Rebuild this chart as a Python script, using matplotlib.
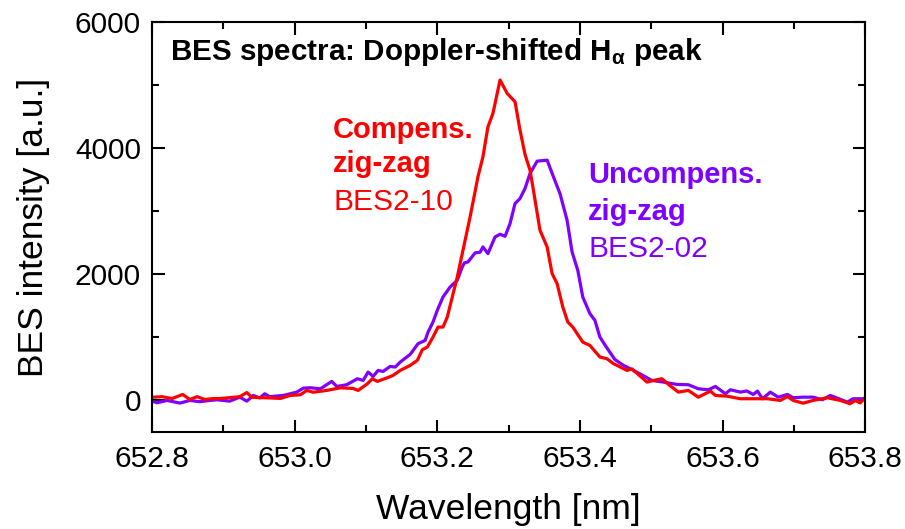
import numpy as np
import matplotlib
matplotlib.use('Agg')
import matplotlib.pyplot as plt
from matplotlib.ticker import MultipleLocator

plt.rcParams['font.family'] = ['Liberation Sans', 'DejaVu Sans']
plt.rcParams['mathtext.fontset'] = 'custom'
plt.rcParams['mathtext.rm'] = 'Liberation Sans'
plt.rcParams['mathtext.it'] = 'Liberation Sans:italic'
plt.rcParams['mathtext.bf'] = 'Liberation Sans:bold'

# compensated zig-zag, BES2-10
wl_comp = [652.800, 652.814, 652.828, 652.843, 652.853, 652.863, 652.874, 652.886,
           652.895, 652.909, 652.923, 652.933, 652.940, 652.951, 652.965, 652.980,
           652.994, 653.008, 653.017, 653.026, 653.045, 653.064, 653.082, 653.089,
           653.102, 653.109, 653.116, 653.130, 653.138, 653.148, 653.162, 653.172,
           653.179, 653.186, 653.194, 653.201, 653.208, 653.214, 653.221, 653.228,
           653.236, 653.246, 653.257, 653.264, 653.271, 653.278, 653.288, 653.298,
           653.309, 653.316, 653.323, 653.330, 653.334, 653.344, 653.354, 653.361,
           653.368, 653.376, 653.383, 653.390, 653.404, 653.414, 653.428, 653.438,
           653.447, 653.452, 653.466, 653.473, 653.494, 653.503, 653.515, 653.526,
           653.538, 653.552, 653.566, 653.583, 653.590, 653.606, 653.625, 653.649,
           653.663, 653.681, 653.691, 653.699, 653.713, 653.727, 653.747, 653.765,
           653.779, 653.786, 653.793, 653.800]
int_comp = [50, 60, 30, 95, 15, 60, 15, 30,
            30, 45, 60, 125, 50, 45, 40, 32,
            80, 90, 159, 130, 159, 200, 190, 159,
            265, 344, 302, 360, 397, 476, 556, 635,
            805, 846, 1005, 1163, 1163, 1322, 1640, 1957,
            2381, 2910, 3545, 3862, 4338, 4550, 5080, 4868,
            4735, 4286, 3900, 3651, 3386, 2698, 2434, 2011,
            1852, 1481, 1243, 1163, 925, 873, 688, 661,
            582, 556, 476, 500, 291, 317, 344, 238,
            132, 159, 52, 148, 79, 68, 27, 27,
            27, 0, 63, 0, -43, 0, 43, 0,
            -52, 0, -40, 50]

# uncompensated zig-zag, BES2-02
wl_unc = [652.800, 652.807, 652.821, 652.839, 652.853, 652.867, 652.881, 652.891,
          652.909, 652.923, 652.933, 652.942, 652.951, 652.958, 652.965, 652.984,
          653.003, 653.012, 653.022, 653.036, 653.052, 653.059, 653.073, 653.088,
          653.096, 653.103, 653.110, 653.117, 653.124, 653.134, 653.141, 653.148,
          653.162, 653.173, 653.183, 653.187, 653.194, 653.200, 653.208, 653.218,
          653.228, 653.235, 653.238, 653.243, 653.253, 653.260, 653.264, 653.271,
          653.281, 653.288, 653.295, 653.302, 653.309, 653.316, 653.323, 653.330,
          653.340, 653.354, 653.362, 653.372, 653.382, 653.389, 653.397, 653.404,
          653.414, 653.421, 653.428, 653.438, 653.449, 653.461, 653.466, 653.484,
          653.501, 653.517, 653.536, 653.552, 653.566, 653.580, 653.590, 653.604,
          653.611, 653.625, 653.634, 653.643, 653.649, 653.656, 653.667, 653.678,
          653.691, 653.699, 653.713, 653.727, 653.740, 653.751, 653.761, 653.775,
          653.783, 653.797, 653.800]
int_unc = [-11, -37, 0, -42, 0, -20, 0, 10,
           -11, 52, -11, 79, 40, 106, 60, 79,
           132, 195, 201, 185, 302, 222, 249, 344,
           317, 450, 381, 476, 460, 540, 529, 608,
           730, 900, 952, 1084, 1243, 1429, 1640, 1799,
           1905, 2116, 2180, 2196, 2339, 2350, 2434, 2328,
           2592, 2635, 2603, 2804, 3122, 3201, 3360, 3598,
           3794, 3810, 3571, 3281, 2857, 2354, 2063, 1640,
           1376, 1270, 1005, 830, 650, 556, 529, 423,
           317, 291, 254, 249, 185, 169, 222, 106,
           169, 132, 150, 95, 148, 27, 132, 52,
           95, 43, 52, 52, 11, 79, 37, -26,
           27, 27, 30]

red = '#ff0000'
violet = '#8000ff'

fig = plt.figure(figsize=(9.05, 5.29), dpi=100)
ax = fig.add_axes([0.168, 0.1834, 0.788, 0.775])

ax.plot(wl_unc, int_unc, color=violet, lw=2.3)
ax.plot(wl_comp, int_comp, color=red, lw=2.3)

ax.set_xlim(652.8, 653.8)
ax.set_ylim(-500, 6000)
ax.xaxis.set_major_locator(MultipleLocator(0.2))
ax.xaxis.set_minor_locator(MultipleLocator(0.1))
ax.yaxis.set_major_locator(MultipleLocator(2000))
ax.yaxis.set_minor_locator(MultipleLocator(1000))
ax.xaxis.set_major_formatter(matplotlib.ticker.FormatStrFormatter('%.1f'))
ax.tick_params(which='both', direction='in', top=True, right=True, width=1.5,
               labelsize=21.5)
ax.tick_params(which='major', length=9, pad=8)
ax.tick_params(axis='x', which='major', pad=9.5)
ax.tick_params(which='minor', length=5)
for s in ax.spines.values():
    s.set_linewidth(1.5)

ax.set_xlabel('Wavelength [nm]', fontsize=25.5, labelpad=14)
ax.set_ylabel('BES intensity [a.u.]', fontsize=25.5, labelpad=18)

ax.text(0.025, 0.907, r'BES spectra: Doppler-shifted H$_{\mathbf{\alpha}}$ peak',
        transform=ax.transAxes, fontsize=21.3, fontweight='bold', va='baseline')

ax.text(0.254, 0.717, 'Compens.', transform=ax.transAxes, color=red,
        fontsize=21, fontweight='bold', va='baseline')
ax.text(0.254, 0.634, 'zig-zag', transform=ax.transAxes, color=red,
        fontsize=21, fontweight='bold', va='baseline')
ax.text(0.254, 0.541, 'BES2-10', transform=ax.transAxes, color=red,
        fontsize=21.5, va='baseline')

ax.text(0.6115, 0.607, 'Uncompens.', transform=ax.transAxes, color=violet,
        fontsize=21, fontweight='bold', va='baseline')
ax.text(0.6115, 0.517, 'zig-zag', transform=ax.transAxes, color=violet,
        fontsize=21, fontweight='bold', va='baseline')
ax.text(0.6115, 0.427, 'BES2-02', transform=ax.transAxes, color=violet,
        fontsize=21.5, va='baseline')

fig.savefig('out.png', dpi=100)
